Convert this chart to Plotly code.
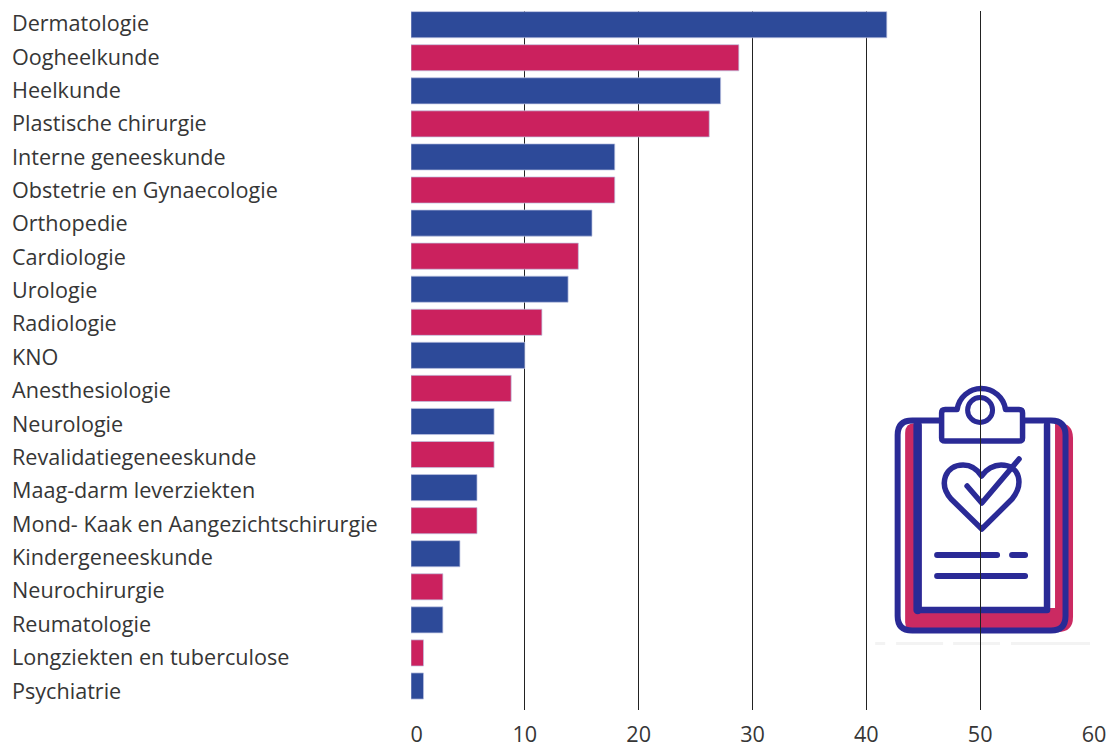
import base64
import plotly.graph_objects as go

W, H = 1109, 742
categories = ["Dermatologie", "Oogheelkunde", "Heelkunde", "Plastische chirurgie", "Interne geneeskunde",
              "Obstetrie en Gynaecologie", "Orthopedie", "Cardiologie", "Urologie", "Radiologie", "KNO",
              "Anesthesiologie", "Neurologie", "Revalidatiegeneeskunde", "Maag-darm leverziekten",
              "Mond- Kaak en Aangezichtschirurgie", "Kindergeneeskunde", "Neurochirurgie", "Reumatologie",
              "Longziekten en tuberculose", "Psychiatrie"]
values = [41.8, 28.8, 27.2, 26.2, 17.9, 17.9, 15.9, 14.7, 13.8, 11.5, 10.0, 8.8, 7.3, 7.3, 5.8, 5.8, 4.3, 2.8, 2.8,
          1.1, 1.1]
tick_values = [0, 10, 20, 30, 40, 50, 60]
tick_labels = ["\u00a0\u00a00", "10", "20", "30", "40", "50", "60"]
BLUE, PINK = "#2d4a99", "#cb215e"
ICON_BLUE, ICON_PINK = "#2a2a96", "#cb2b62"
TEXT = "#363636"
FONT = "Open Sans"

colors = [BLUE if i % 2 == 0 else PINK for i in range(len(categories))]

# Clipboard icon, in page pixels of a region starting at (860, 370)
svg = f'''<svg xmlns="http://www.w3.org/2000/svg" width="249" height="290" viewBox="860 370 249 290">
<defs><filter id="b"><feGaussianBlur stdDeviation="0.6"/></filter></defs>
<g filter="url(#b)">
<g fill="#f3f3f3"><rect x="875" y="642" width="10" height="3"/><rect x="896" y="642" width="47" height="3"/>
<rect x="953" y="642" width="47" height="3"/><rect x="1011" y="642" width="79" height="3"/></g>
<path d="M915 423H1058Q1073 423 1073 438V617Q1073 632 1058 632H915Q905 632 905 622V433Q905 423 915 423Z" fill="{ICON_PINK}"/>
<path d="M921 423H1055V608H921Z" fill="#fff"/>
<g fill="none" stroke="{ICON_BLUE}" stroke-linejoin="round" stroke-linecap="round">
<path d="M941 420.5H912Q897.5 420.5 897.5 435V616Q897.5 630.5 912 630.5H1051Q1065.5 630.5 1065.5 616V435Q1065.5 420.5 1051 420.5H1022" stroke-width="6"/>
<path d="M917.5 425V610H1047V425" stroke-width="6.5"/>
<path d="M917.5 425V610" stroke-width="8.5"/>
<path d="M957 409.5H945Q941.5 409.5 941.5 413V438Q941.5 441 945 441H1019Q1022.5 441 1022.5 438V413Q1022.5 409.5 1019 409.5H1005.5A24.5 24.5 0 0 0 957 409.5Z" fill="#fff" stroke-width="5.5"/>
<circle cx="980" cy="410" r="12.5" fill="#fff" stroke-width="5"/>
<path d="M981.7 529L951 499C938 484 945 465 963 465C971 465 977 469 981.5 476C986 469 994 465 1001 465C1020 465 1024 484 1012 499Z" stroke-width="5.5"/>
<path d="M967 486L981.7 503L1019 459" stroke-width="5.5" fill="none"/>
<path d="M937 555H997M1012 555H1025M937 576H1025" stroke-width="6"/>
</g></g></svg>'''
icon_uri = "data:image/svg+xml;base64," + base64.b64encode(svg.encode()).decode()

fig = go.Figure(go.Bar(
    x=values, y=categories, orientation="h",
    marker=dict(color=colors, line=dict(color="rgba(190,195,225,0.7)", width=1)),
    width=0.79, cliponaxis=False, hoverinfo="x+y",
))

m_l, m_r, m_t, m_b = 410.5, 15, 11, 32
pw, ph = W - m_l - m_r, H - m_t - m_b
spacing = 33.07
fig.update_layout(
    width=W, height=H, autosize=False, paper_bgcolor="white", plot_bgcolor="white",
    margin=dict(l=m_l, r=m_r, t=m_t, b=m_b, pad=0, autoexpand=False), showlegend=False,
    font=dict(family=FONT, size=21.6, color=TEXT),
    bargap=0.21,
    xaxis=dict(range=[0, 60], tickvals=tick_values, ticktext=tick_labels, showgrid=True, gridcolor="#222222",
               gridwidth=1, zeroline=False, showline=False, ticks="", tickfont=dict(family=FONT, size=21.6, color=TEXT),
               ticklabelstandoff=9, layer="above traces", automargin=False),
    yaxis=dict(categoryorder="array", categoryarray=categories,
               range=[20 + 24 / spacing, -13.7 / spacing], showticklabels=False, ticks="", showgrid=False,
               zeroline=False, showline=False, automargin=False),
    images=[dict(source=icon_uri, xref="paper", yref="paper", layer="below",
                 x=(860 - m_l) / pw, y=1 - (370 - m_t) / ph, sizex=249 / pw, sizey=290 / ph,
                 xanchor="left", yanchor="top", sizing="stretch")],
    annotations=[dict(text=c, x=(9 - m_l) / pw, xref="paper", y=c, yref="y", yshift=2 - 0.3 * i,
                      xanchor="left", yanchor="middle",
                      showarrow=False, align="left", font=dict(family=FONT, size=21.6, color=TEXT))
                 for i, c in enumerate(categories)],
)
fig.write_html("out.html", config=dict(displayModeBar=False),
               post_script="document.body.style.margin='0';document.documentElement.style.overflow='hidden';")
